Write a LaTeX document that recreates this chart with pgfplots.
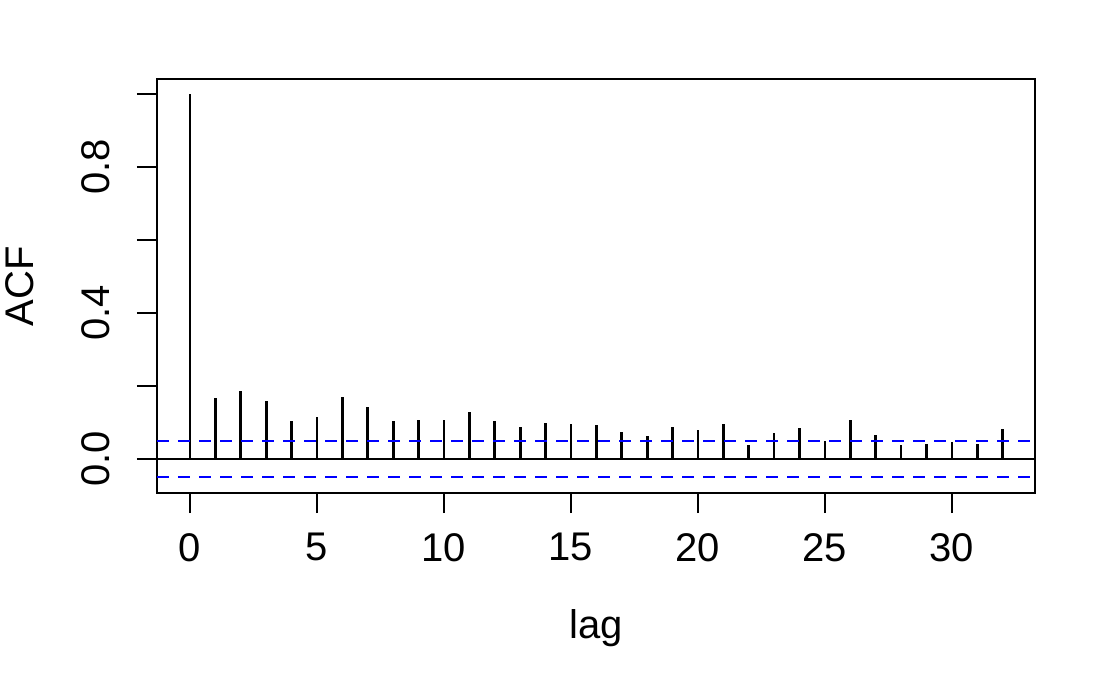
\documentclass[border=0pt]{standalone}
\usepackage{fontspec}
\setmainfont{Liberation Sans}
\usepackage{pgfplots}
\pgfplotsset{compat=1.18}
\pgfplotstableread{
lag acf
0 1.000
1 0.168
2 0.186
3 0.160
4 0.105
5 0.116
6 0.169
7 0.143
8 0.104
9 0.108
10 0.106
11 0.129
12 0.104
13 0.088
14 0.099
15 0.097
16 0.092
17 0.074
18 0.064
19 0.088
20 0.080
21 0.096
22 0.037
23 0.071
24 0.086
25 0.048
26 0.108
27 0.066
28 0.039
29 0.040
30 0.046
31 0.042
32 0.082
}\acfdata
\begin{document}
\begin{tikzpicture}
\useasboundingbox (-117.75pt,-147pt) rectangle (719.25pt,369.75pt);
\begin{axis}[
  at={(0,0)}, anchor=south west,
  scale only axis, width=658.5pt, height=310.5pt,
  xmin=-1.299, xmax=33.27, ymin=-0.0932, ymax=1.041,
  axis line style={line width=1.8pt},
  tick align=outside, major tick length=15pt,
  tick style={black, line width=1.8pt},
  xtick pos=bottom, ytick pos=left,
  xtick={0,5,10,15,20,25,30},
  ytick={0,0.2,0.4,0.6,0.8,1.0},
  yticklabels={0.0,{},0.4,{},0.8,{}},
  /pgf/number format/assume math mode=true,
  tick label style={font=\fontsize{30}{36}\selectfont},
  xticklabel style={anchor=north, inner sep=0pt},
  xticklabel shift=15pt,
  yticklabel style={rotate=90, anchor=south, inner sep=0pt},
  yticklabel shift=20pt,
  label style={font=\fontsize{30}{36}\selectfont},
  xlabel={lag}, ylabel={ACF},
  xlabel style={at={(axis description cs:0.5,-0.3253)}, anchor=center},
  ylabel style={at={(axis description cs:-0.1564,0.5)}, anchor=center},
  clip=true,
]
\addplot[ycomb, black, line width=2pt, no marks] table[x=lag, y=acf] {\acfdata};
\addplot[black, line width=1.8pt] coordinates {(-1.299,0) (33.27,0)};
\addplot[blue, line width=1.8pt, dash pattern=on 9pt off 6.75pt] coordinates {(-1.299,0.049) (33.27,0.049)};
\addplot[blue, line width=1.8pt, dash pattern=on 9pt off 6.75pt] coordinates {(-1.299,-0.049) (33.27,-0.049)};
\end{axis}
\end{tikzpicture}
\end{document}
